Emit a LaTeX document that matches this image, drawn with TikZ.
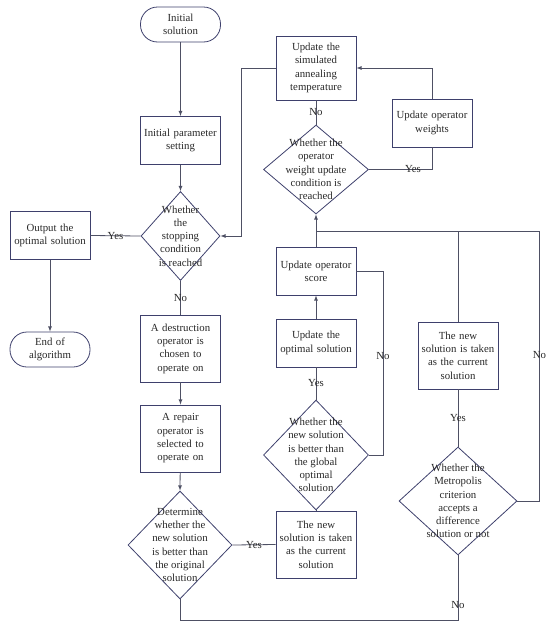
\documentclass[tikz,border=0pt]{standalone}
\usepackage{fontspec}
\setmainfont{Liberation Serif}
\usetikzlibrary{positioning}
\usetikzlibrary{calc}
\usetikzlibrary{shapes}
\usetikzlibrary{arrows}
\definecolor{edgeBlue}{RGB}{62,64,108}
\definecolor{lineGray}{RGB}{78,80,100}
\definecolor{textGray}{RGB}{40,40,40}
\tikzset{>=latex}
\tikzset{proc/.style={rectangle, draw=edgeBlue, minimum height=48pt, minimum width=80pt, text width=76pt, inner sep=2pt, align=center}}
\tikzset{term/.style={rectangle, rounded corners=17pt, draw=edgeBlue, minimum height=35pt, minimum width=80pt, text width=76pt, inner sep=2pt, align=center}}
\tikzset{decision/.style={diamond, draw=edgeBlue, inner sep=0pt}}
\tikzset{decisionText/.style={align=center, inner sep=0pt}}
\tikzset{lbl/.style={inner sep=1pt}}

\begin{document}
\begin{tikzpicture}[x=1pt, y=-1pt, line width=0.8pt, draw=lineGray, text=textGray,
        font=\fontsize{10.8}{13.3}\selectfont
    ]
    \useasboundingbox (0,0) rectangle (550,627);

    \node [term] (initSolution) at (180.5,24.5) {Initial\\solution};
    \node [proc] (paramSetting) at (180.5,140.5) {Initial parameter\\setting};
    \node [decision, minimum width=79pt, minimum height=89pt,
        label={[decisionText]center:Whether\\the\\stopping\\condition\\is reached}] (stopCond) at (180.5,236) {};
    \node [proc] (outputSol) at (50,235.5) {Output the\\optimal solution};
    \node [term] (endAlg) at (50,349.5) {End of\\algorithm};
    \node [proc, minimum height=67pt] (destructOp) at (180.5,348.5) {A destruction\\operator is\\chosen to\\operate on};
    \node [proc, minimum height=67pt] (repairOp) at (180.5,438.5) {A repair\\operator is\\selected to\\operate on};
    \node [decision, minimum width=104pt, minimum height=108pt,
        label={[decisionText]center:Determine\\whether the\\new solution\\is better than\\the original\\solution}] (judgeNew) at (180,545) {};

    \node [proc, minimum height=67pt] (newCurrent0) at (316,544.5) {The new\\solution is taken\\as the current\\solution};
    \node [decision, minimum width=105pt, minimum height=110pt,
        label={[decisionText]center:Whether the\\new solution\\is better than\\the global\\optimal\\solution}] (globalCond) at (316,455) {};
    \node [proc] (updateOptimal) at (316,343) {Update the\\optimal solution};
    \node [proc] (updateScore) at (316,271) {Update operator\\score};
    \node [decision, minimum width=105pt, minimum height=89pt,
        label={[decisionText]center:Whether the\\operator\\weight update\\condition is\\reached}] (weightCond) at (316,169.5) {};
    \node [proc, minimum height=64pt] (updateTemp) at (316,68) {Update the\\simulated\\annealing\\temperature};
    \node [proc] (updateWeights) at (432,123) {Update operator\\weights};

    \node [proc, minimum height=67pt] (newCurrent1) at (458,355.5) {The new\\solution is taken\\as the current\\solution};
    \node [decision, minimum width=118pt, minimum height=108pt,
        label={[decisionText]center:Whether the\\Metropolis\\criterion\\accepts a\\difference\\solution or not}] (metroCond) at (458,501) {};

    \coordinate (joinPt) at (316,231);

    \draw [->] (initSolution) -- (paramSetting);
    \draw [->] (paramSetting) -- (stopCond.north);
    \draw (stopCond.west) -- node [lbl] {Yes} (outputSol.east);
    \draw [->] (outputSol) -- (endAlg);
    \draw (stopCond.south) -- node [lbl] {No} (destructOp.north);
    \draw [->] (destructOp) -- (repairOp);
    \draw [->] (repairOp) -- (judgeNew.north);
    \draw (judgeNew.east) -- node [lbl] {Yes} (newCurrent0.west);
    \draw (newCurrent0.north) -- (globalCond.south);
    \draw (globalCond.north) -- node [lbl] {Yes} (updateOptimal.south);
    \draw [->] (updateOptimal) -- (updateScore);
    \draw (globalCond.east) -- ++(14,0) |- node [lbl, pos=0.27] {No} (updateScore.east);
    \draw [->] (updateScore.north) -- (weightCond.south);
    \draw (weightCond.north) -- node [lbl] {No} (updateTemp.south);
    \draw (weightCond.east) -| node [lbl, pos=0.35] {Yes} (updateWeights.south);
    \draw [->] (updateWeights.north) |- (updateTemp.east);
    \draw [->] (updateTemp.west) -- ++(-34,0) |- (stopCond.east);
    \draw (metroCond.north) -- node [lbl] {Yes} (newCurrent1.south);
    \draw (newCurrent1.north) -- (newCurrent1.north |- joinPt);
    \draw (metroCond.east) -- ++(22,0) |- node [lbl, pos=0.27] {No} (joinPt);
    \draw (judgeNew.south) -- ++(0,21) -| node [lbl, pos=0.62] {No} (metroCond.south);

\end{tikzpicture}
\end{document}
